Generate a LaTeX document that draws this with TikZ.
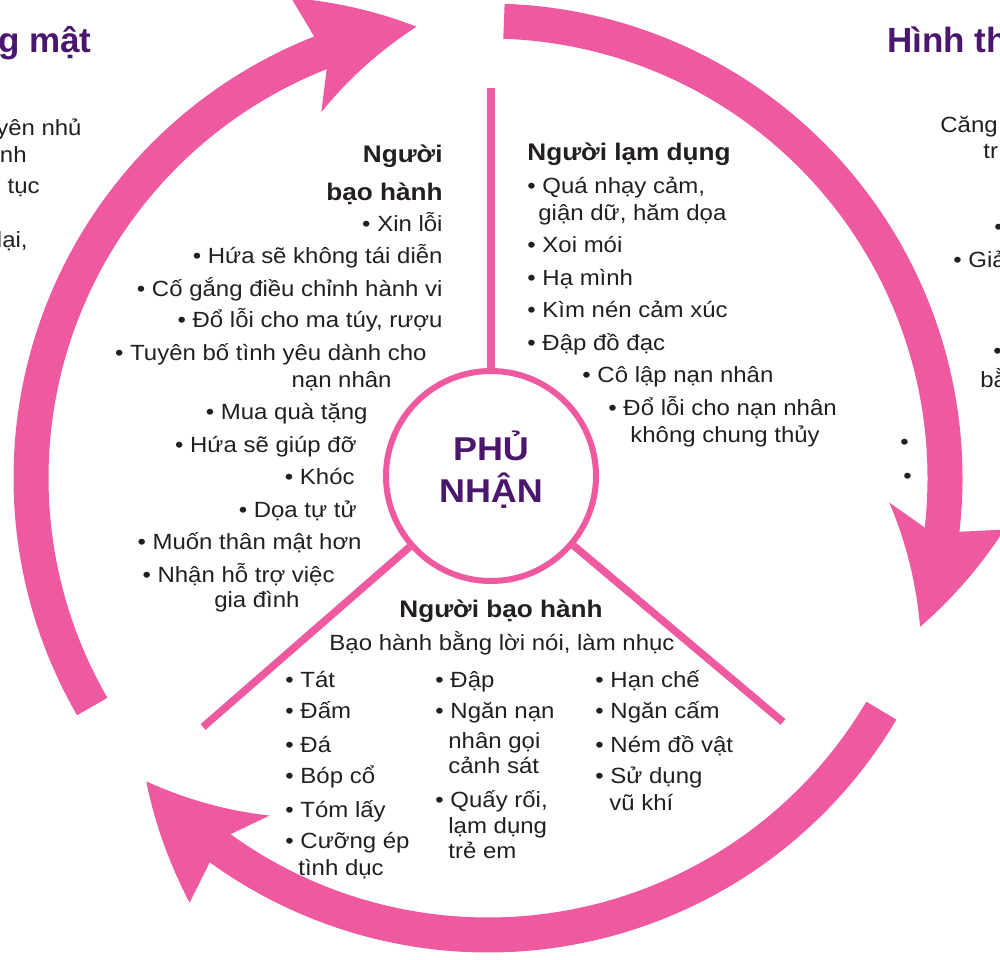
\documentclass[tikz,border=0pt]{standalone}
\usepackage{fontspec}
\setmainfont{Liberation Sans}[FakeStretch=1.09]
\newfontfamily\titlefont{Liberation Sans}
\usepackage{tikz}

\definecolor{ringpink}{RGB}{238,89,160}
\definecolor{cyclepurple}{RGB}{74,22,110}
\definecolor{txtgray}{RGB}{35,31,32}

\tikzset{
  ring/.style={ringpink, line width=17.5pt},
  spoke/.style={ringpink, line width=3.75pt},
  item/.style={txtgray, font=\fontsize{11}{13}\selectfont, inner sep=0pt},
  headline/.style={txtgray, font=\fontsize{12}{14}\selectfont\bfseries, inner sep=0pt},
  cycletitle/.style={cyclepurple, font=\titlefont\fontsize{17.5}{21}\selectfont\bfseries, inner sep=0pt},
}

\newcommand{\ringhead}[1]{%
  \fill[ringpink] (#1-12.5:440) -- (#1-15.5:402)
    -- plot[domain=0:1, samples=16] ({#1-15.5+15.5*\x}:{402+55*\x})
    -- plot[domain=0:1, samples=16] ({#1-13.3*\x}:{457+62*\x})
    -- (#1-12.5:475) -- cycle;}

\begin{document}
\begin{tikzpicture}[x=0.5pt, y=-0.5pt]
  \useasboundingbox (0,0) rectangle (1000,959);

  \begin{scope}[shift={(488,478)}]
    \draw[ring] (-88:457) arc[start angle=-88, end angle=7, radius=457];
    \draw[ring] (30.6:457) arc[start angle=30.6, end angle=126.4, radius=457];
    \draw[ring] (150:457) arc[start angle=150, end angle=249, radius=457];
    \ringhead{19}
    \ringhead{138.4}
    \ringhead{261}
  \end{scope}

  \node[draw=ringpink, line width=3pt, circle, minimum size=105pt, inner sep=0pt] (hub) at (491,476) {};
  \coordinate (sptop) at (491,88);
  \coordinate (spleft) at (203,727);
  \coordinate (spright) at (783,722);
  \draw[spoke] (hub) -- (sptop);
  \draw[spoke] (hub) -- (spleft);
  \draw[spoke] (hub) -- (spright);

  \node[cyclepurple, font=\fontsize{16.5}{20}\selectfont\bfseries, inner sep=0pt, anchor=base] (hubtop) at (491,460) {PHỦ};
  \node[cyclepurple, font=\fontsize{16.5}{20}\selectfont\bfseries, inner sep=0pt, anchor=base] (hubbot) at (491,502) {NHẬN};

  \node[cycletitle, anchor=base east] (titleleft) at (92,52) {g mật};
  \node[cycletitle, anchor=base west] (titleright) at (887,52) {Hình th};

  \foreach \xx/\yy/\txt [count=\i] in {82/135/{yên nhủ}, 27/162/{nh}, 40/193/{tục}, 28/247/{lại,}}
    \node[item, anchor=base east] (cutl\i) at (\xx,\yy) {\txt};
  \foreach \xx/\yy/\txt [count=\i] in {940/132/{Căng}, 983/158/{tr}, 994/234/{•}, 953/267/{• Giả},
      993/358/{•}, 980/387/{bằ}, 900/449/{•}, 903/483/{•}}
    \node[item, anchor=base west] (cutr\i) at (\xx,\yy) {\txt};

  \node[headline, anchor=base east] (leftheadA) at (443,162) {Người};
  \node[headline, anchor=base east] (leftheadB) at (443,200) {bạo hành};
  \foreach \xx/\yy/\txt [count=\i] in {443/231/{• Xin lỗi}, 443/263/{• Hứa sẽ không tái diễn},
      443/296/{• Cố gắng điều chỉnh hành vi}, 443/327/{• Đổ lỗi cho ma túy, rượu},
      427/360/{• Tuyên bố tình yêu dành cho}, 392/387/{nạn nhân}, 368/419/{• Mua quà tặng},
      357/452/{• Hứa sẽ giúp đỡ}, 355/484/{• Khóc}, 357/517/{• Dọa tự tử},
      362/549/{• Muốn thân mật hơn}, 335/582/{• Nhận hỗ trợ việc}, 300/607/{gia đình}}
    \node[item, anchor=base east] (left\i) at (\xx,\yy) {\txt};

  \node[headline, anchor=base west] (righthead) at (527,160) {Người lạm dụng};
  \foreach \xx/\yy/\txt [count=\i] in {527/193/{• Quá nhạy cảm,}, 538/220/{giận dữ, hăm dọa},
      527/252/{• Xoi mói}, 527/285/{• Hạ mình}, 527/317/{• Kìm nén cảm xúc}, 527/350/{• Đập đồ đạc},
      582/382/{• Cô lập nạn nhân}, 608/415/{• Đổ lỗi cho nạn nhân}, 630/442/{không chung thủy}}
    \node[item, anchor=base west] (right\i) at (\xx,\yy) {\txt};

  \node[headline, anchor=base] (bothead) at (501,617) {Người bạo hành};
  \node[item, anchor=base] (botsub) at (502,650) {Bạo hành bằng lời nói, làm nhục};
  \foreach \xx/\yy/\txt [count=\i] in {285/687/{• Tát}, 285/718/{• Đấm}, 285/752/{• Đá},
      285/783/{• Bóp cổ}, 285/817/{• Tóm lấy}, 285/848/{• Cưỡng ép}, 298/875/{tình dục},
      435/687/{• Đập}, 435/718/{• Ngăn nạn}, 448/748/{nhân gọi}, 448/773/{cảnh sát},
      435/807/{• Quấy rối,}, 448/833/{lạm dụng}, 448/858/{trẻ em},
      595/687/{• Hạn chế}, 595/718/{• Ngăn cấm}, 595/752/{• Ném đồ vật},
      595/783/{• Sử dụng}, 609/810/{vũ khí}}
    \node[item, anchor=base west] (bot\i) at (\xx,\yy) {\txt};
\end{tikzpicture}
\end{document}
